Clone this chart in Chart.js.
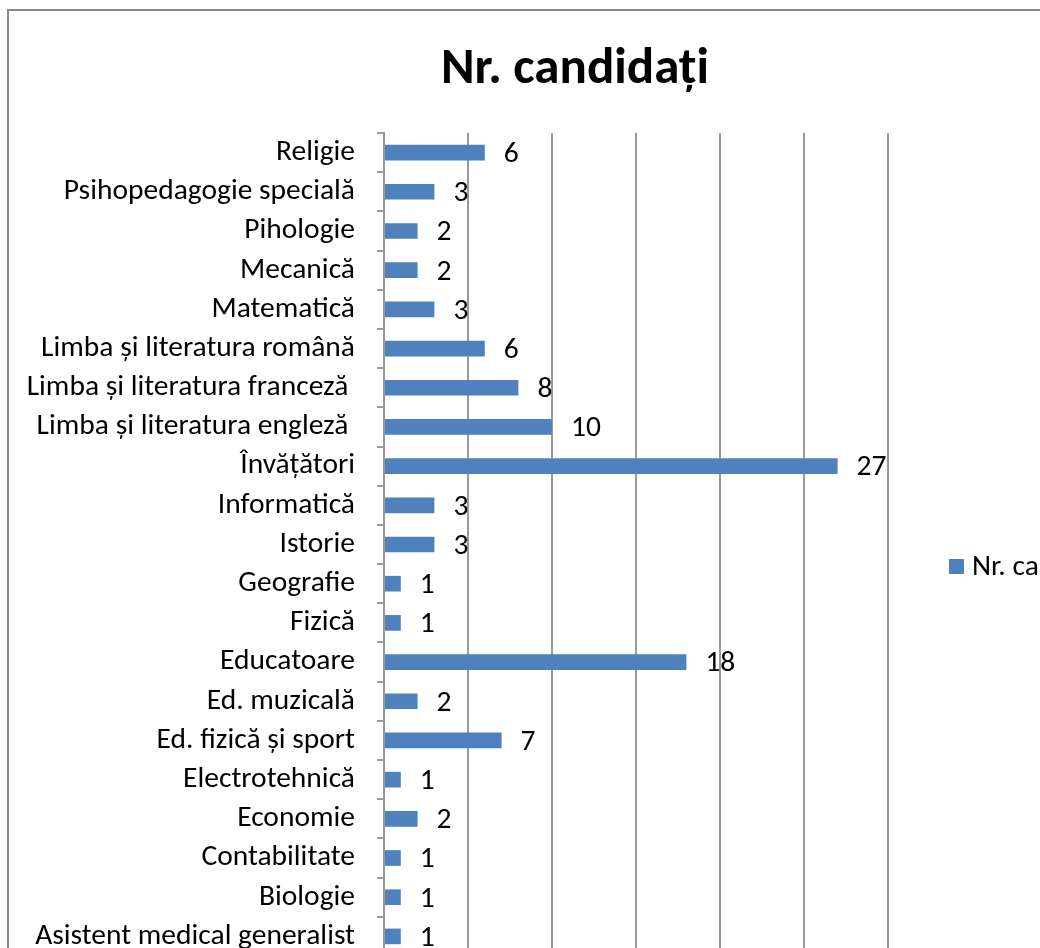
<!DOCTYPE html>
<html lang="ro">
<head>
<meta charset="UTF-8">
<title>Nr. candidați</title>
<script src="https://cdn.jsdelivr.net/npm/chart.js"></script>
<style>
    html, body { margin: 0; padding: 0; background: #fff; }
    .page { position: relative; width: 1040px; height: 948px; overflow: hidden; background: #fff; }
    .frame { position: absolute; left: 7px; top: 9px; width: 1132px; height: 1060px; border: 2px solid #8a8a8a; }
    .frame canvas { display: block; }
</style>
</head>
<body>
<div class="page">
    <div class="frame">
        <canvas id="candChart" width="1132" height="1060"></canvas>
    </div>
</div>
<script>
    // date (de sus in jos)
    const chartTitle = 'Nr. candidați';
    const seriesName = 'Nr. candidați';
    const specializari = [
        'Religie',
        'Psihopedagogie specială',
        'Pihologie',
        'Mecanică',
        'Matematică',
        'Limba și literatura română',
        'Limba și literatura franceză ',
        'Limba și literatura engleză ',
        'Învățători',
        'Informatică',
        'Istorie',
        'Geografie',
        'Fizică',
        'Educatoare',
        'Ed. muzicală',
        'Ed. fizică și sport',
        'Electrotehnică',
        'Economie',
        'Contabilitate',
        'Biologie',
        'Asistent medical generalist'
    ];
    const nrCandidati = [6, 3, 2, 2, 3, 6, 8, 10, 27, 3, 3, 1, 1, 18, 2, 7, 1, 2, 1, 1, 1];
    const xTicks = [0, 5, 10, 15, 20, 25, 30];

    const fontFam = 'Carlito, Lato, "Open Sans", sans-serif';
    const fontSize = 29.5;
    const barColor = '#4f81bd';
    const gridColor = '#9a9a9a';

    // titlu centrat pe toata latimea
    const titlePlugin = {
        id: 'excelTitle',
        afterDraw(chart) {
            const ctx = chart.ctx;
            ctx.save();
            ctx.font = 'bold 51px ' + fontFam;
            ctx.fillStyle = '#000';
            ctx.textAlign = 'center';
            ctx.textBaseline = 'alphabetic';
            ctx.fillText(chartTitle, chart.width / 2, 72);
            ctx.restore();
        }
    };

    // etichete cu valori la capatul barelor
    const valuesPlugin = {
        id: 'barValues',
        afterDatasetsDraw(chart) {
            const ctx = chart.ctx;
            const meta = chart.getDatasetMeta(0);
            ctx.save();
            ctx.font = fontSize + 'px ' + fontFam;
            ctx.fillStyle = '#000';
            ctx.textAlign = 'left';
            ctx.textBaseline = 'middle';
            meta.data.forEach((bar, i) => {
                ctx.fillText(String(nrCandidati[i]), bar.x + 19, bar.y + 2);
            });
            ctx.restore();
        }
    };

    // legenda in dreapta (taiata de marginea imaginii)
    const legendPlugin = {
        id: 'sideLegend',
        afterDraw(chart) {
            const ctx = chart.ctx;
            const a = chart.chartArea;
            const x = a.right + 61;
            const y = (a.top + a.bottom) / 2 + 22;
            ctx.save();
            ctx.fillStyle = barColor;
            ctx.fillRect(x, y - 7.5, 15, 15);
            ctx.font = fontSize + 'px ' + fontFam;
            ctx.fillStyle = '#000';
            ctx.textAlign = 'left';
            ctx.textBaseline = 'middle';
            ctx.fillText(seriesName, x + 23, y + 1);
            ctx.restore();
        }
    };

    new Chart(document.getElementById('candChart'), {
        type: 'bar',
        data: {
            labels: specializari,
            datasets: [{
                label: seriesName,
                data: nrCandidati,
                backgroundColor: barColor,
                borderWidth: 0,
                categoryPercentage: 0.8,
                barPercentage: 0.5
            }]
        },
        options: {
            indexAxis: 'y',
            responsive: false,
            animation: false,
            layout: { padding: { top: 122, right: 253, bottom: 0, left: 0 } },
            plugins: {
                legend: { display: false },
                title: { display: false },
                tooltip: { enabled: false }
            },
            scales: {
                x: {
                    min: 0,
                    max: 30,
                    afterBuildTicks(scale) { scale.ticks = xTicks.map(v => ({ value: v })); },
                    afterFit(scale) { scale.height = 115; },
                    grid: { color: gridColor, lineWidth: 2, tickLength: 7 },
                    border: { color: gridColor, width: 2 },
                    ticks: { color: '#000', font: { family: fontFam, size: fontSize } }
                },
                y: {
                    afterFit(scale) { scale.width = 375; },
                    grid: { drawOnChartArea: false, color: gridColor, lineWidth: 2, tickLength: 7, offset: true },
                    border: { color: gridColor, width: 2 },
                    ticks: { color: '#000', padding: 22, autoSkip: false, font: { family: fontFam, size: fontSize } }
                }
            }
        },
        plugins: [titlePlugin, valuesPlugin, legendPlugin]
    });
</script>
</body>
</html>
